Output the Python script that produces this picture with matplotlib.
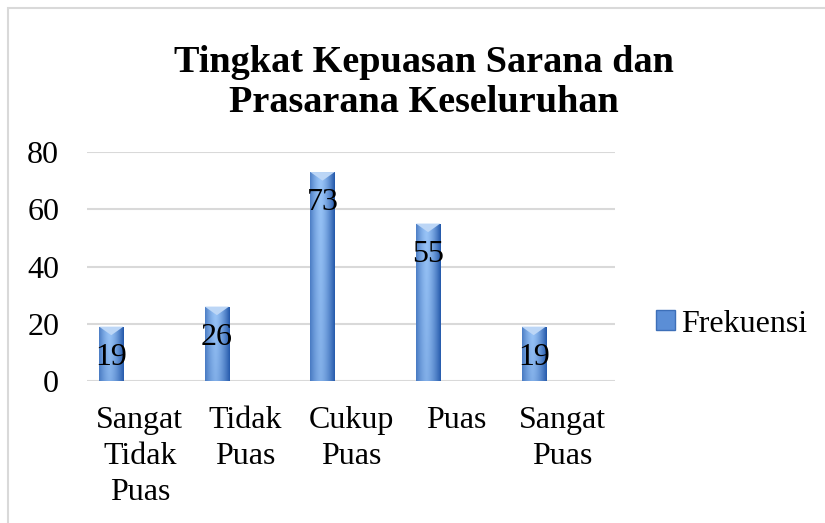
import matplotlib.pyplot as plt
import numpy as np
from matplotlib.patches import Patch, Rectangle

categories = ['Sangat\nTidak\nPuas', 'Tidak\nPuas', 'Cukup\nPuas', 'Puas', 'Sangat\nPuas']
frekuensi = [19, 26, 73, 55, 19]
yticks = [0, 20, 40, 60, 80]

plt.rcParams['font.family'] = ['Liberation Serif', 'DejaVu Serif']

W, H = 825, 523
fig = plt.figure(figsize=(W / 100, H / 100), dpi=100)
fig.patches.append(Rectangle((8 / W, -0.1), 1.0, 1 - 8 / H + 0.1,
                             transform=fig.transFigure, fill=False,
                             edgecolor='#d9d9d9', linewidth=1.5))

ax = fig.add_axes([87 / W, 1 - 381 / H, 528 / W, 229 / H])
x = np.arange(len(categories))
bars = ax.bar(x - 0.27, frekuensi, width=0.23, color='#5b8ed6', zorder=3)

# gradient fill like the excel bevel bars
gx = np.linspace(-1, 1, 60)
horiz = 1 - np.abs(gx + 0.15) ** 1.5
c_lo = np.array([0.22, 0.42, 0.72])
c_hi = np.array([0.60, 0.77, 0.97])
for b in bars:
    x0, y0 = b.get_x(), b.get_y()
    w, h = b.get_width(), b.get_height()
    gy = np.linspace(0, 1, 80)[:, None]
    t = horiz[None, :] * (0.75 + 0.25 * gy)
    img = c_lo + (c_hi - c_lo) * t[..., None]
    im = ax.imshow(img, extent=[x0, x0 + w, y0, y0 + h], origin='lower',
                   aspect='auto', zorder=4, interpolation='bilinear')
    im.set_clip_path(b)
    # top bevel
    cap = 3.0
    ax.fill([x0, x0 + w / 2, x0 + w, x0 + w], [y0 + h, y0 + h - cap, y0 + h, y0 + h],
            color='#bcd6f6', zorder=5, lw=0)
    ax.annotate(str(int(h)), (x0 + w / 2, y0 + h), xytext=(0, -22), textcoords='offset points',
                ha='center', va='center', fontsize=23, zorder=6)

ax.set_xlim(-0.5, 4.5)
ax.set_ylim(0, 80)
ax.set_yticks(yticks)
ax.set_xticks(x)
ax.set_xticklabels(categories, linespacing=1.32)
ax.tick_params(axis='both', length=0, labelsize=23)
ax.tick_params(axis='y', pad=20)
ax.tick_params(axis='x', pad=18)
ax.grid(axis='y', color='#d9d9d9', linewidth=1.5, zorder=0)
for s in ax.spines.values():
    s.set_visible(False)

fig.text(424 / W, 1 - 72 / H, 'Tingkat Kepuasan Sarana dan',
         ha='center', va='baseline', fontsize=27.5, fontweight='bold')
fig.text(424 / W, 1 - 112 / H, 'Prasarana Keseluruhan',
         ha='center', va='baseline', fontsize=27.5, fontweight='bold')

ax.legend(handles=[Patch(facecolor='#5b8ed6', edgecolor='#3d6fb8')], labels=['Frekuensi'],
          loc='center left', bbox_to_anchor=(656 / W, 1 - 324 / H),
          bbox_transform=fig.transFigure, frameon=False, fontsize=23,
          handlelength=0.6, handleheight=0.6, handletextpad=0.2, borderpad=0, borderaxespad=0)

fig.savefig('out.png', dpi=100)
